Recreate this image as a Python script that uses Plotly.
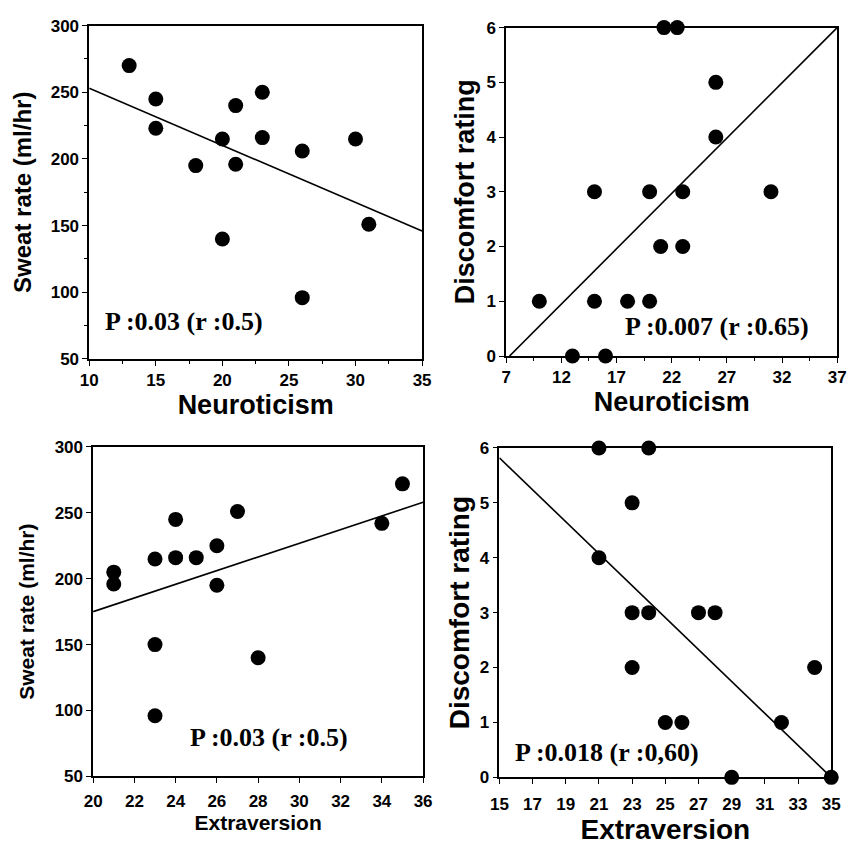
import plotly.graph_objects as go

# Panel A: Neuroticism vs sweat rate
neuro_a = [13, 15, 15, 18, 20, 20, 21, 21, 23, 23, 26, 26, 30, 31]
sweat_a = [270, 245, 223, 195, 215, 140, 240, 196, 250, 216, 206, 96, 215, 151]
fit_a_x = [10, 35]
fit_a_y = [253, 146]

# Panel B: Neuroticism vs discomfort
neuro_b = [21.3, 22.5, 26, 26, 15, 20, 23, 31, 21, 23, 10, 15, 18, 20, 13, 16]
disc_b = [6, 6, 5, 4, 3, 3, 3, 3, 2, 2, 1, 1, 1, 1, 0, 0]
fit_b_x = [7.3, 37]
fit_b_y = [0, 6]

# Panel C: Extraversion vs sweat rate
extra_c = [21, 21, 23, 23, 23, 24, 24, 25, 26, 26, 27, 28, 34, 35]
sweat_c = [205, 196, 215, 150, 96, 245, 216, 216, 225, 195, 251, 140, 242, 272]
fit_c_x = [20, 36]
fit_c_y = [175, 258]

# Panel D: Extraversion vs discomfort
extra_d = [21, 24, 23, 21, 23, 24, 27, 28, 23, 34, 25, 26, 32, 29, 35]
disc_d = [6, 6, 5, 4, 3, 3, 3, 3, 2, 2, 1, 1, 1, 0, 0]
fit_d_x = [15, 35]
fit_d_y = [5.82, 0]

labels = ["P :0.03 (r :0.5)", "P :0.007 (r :0.65)", "P :0.03 (r :0.5)", "P :0.018 (r :0,60)"]

SANS = "Liberation Sans"
SERIF = "Liberation Serif"

fig = go.Figure()

panels = [
    (neuro_a, sweat_a, fit_a_x, fit_a_y, "x", "y"),
    (neuro_b, disc_b, fit_b_x, fit_b_y, "x2", "y2"),
    (extra_c, sweat_c, fit_c_x, fit_c_y, "x3", "y3"),
    (extra_d, disc_d, fit_d_x, fit_d_y, "x4", "y4"),
]
for px, py, fx, fy, xa, ya in panels:
    fig.add_trace(go.Scatter(x=fx, y=fy, mode="lines", xaxis=xa, yaxis=ya,
                             line=dict(color="black", width=1.6), showlegend=False,
                             cliponaxis=False))
    fig.add_trace(go.Scatter(x=px, y=py, mode="markers", xaxis=xa, yaxis=ya,
                             marker=dict(color="black", size=15), showlegend=False,
                             cliponaxis=False))


def tf(size):
    return dict(family=SANS, size=size, color="black", weight=700)


def common(size, standoff=0):
    return dict(showline=True, linecolor="black", linewidth=1.5, mirror=True,
                showgrid=False, zeroline=False, ticks="outside", ticklen=5,
                tickcolor="black", tickfont=tf(size), ticklabelstandoff=standoff)


fig.update_layout(
    width=852, height=845, margin=dict(l=0, r=0, t=0, b=0),
    paper_bgcolor="white", plot_bgcolor="white",
    xaxis=dict(domain=[0.0962, 0.4953], range=[10, 35], tickvals=[10, 15, 20, 25, 30, 35],
               title=dict(text="Neuroticism", font=tf(27), standoff=0), anchor="y",
               minor=dict(ticks="outside", ticklen=3, dtick=2.5, tickcolor="black"), **common(17)),
    yaxis=dict(domain=[0.5763, 0.9799], range=[50, 300], tickvals=[50, 100, 150, 200, 250, 300],
               title=dict(text="Sweat rate (ml/hr)", font=tf(24), standoff=12), anchor="x",
               minor=dict(ticks="outside", ticklen=3, dtick=25, tickcolor="black"), **common(17)),
    xaxis2=dict(domain=[0.5962, 0.9930], range=[7, 37], tickvals=[7, 12, 17, 22, 27, 32, 37],
                title=dict(text="Neuroticism", font=tf(27), standoff=0), anchor="y2",
                minor=dict(ticks="outside", ticklen=3, dtick=2.5, tick0=7, tickcolor="black"), **common(17)),
    yaxis2=dict(domain=[0.5799, 0.9775], range=[0, 6], tickvals=[0, 1, 2, 3, 4, 5, 6],
                title=dict(text="Discomfort rating", font=tf(27), standoff=4), anchor="x2",
                **common(17)),
    xaxis3=dict(domain=[0.1009, 0.4965], range=[20, 36], tickvals=list(range(20, 37, 2)),
                title=dict(text="Extraversion", font=tf(21), standoff=6), anchor="y3",
                **common(17, 3)),
    yaxis3=dict(domain=[0.0710, 0.4698], range=[50, 300], tickvals=[50, 100, 150, 200, 250, 300],
                title=dict(text="Sweat rate (ml/hr)", font=tf(21), standoff=14), anchor="x3",
                **common(17)),
    xaxis4=dict(domain=[0.5880, 0.9859], range=[15, 35], tickvals=list(range(15, 36, 2)),
                title=dict(text="Extraversion", font=tf(28), standoff=4), anchor="y4",
                **common(17, 6)),
    yaxis4=dict(domain=[0.0698, 0.4686], range=[0, 6], tickvals=[0, 1, 2, 3, 4, 5, 6],
                title=dict(text="Discomfort rating", font=tf(28), standoff=2), anchor="x4",
                **common(17)),
)

ann_pos = [(11.0, 78, "x", "y"), (17.55, 0.54, "x2", "y2"),
           (24.6, 79.7, "x3", "y3"), (15.8, 0.46, "x4", "y4")]
for (ax, ay, xr, yr), txt in zip(ann_pos, labels):
    fig.add_annotation(x=ax, y=ay, xref=xr, yref=yr, text=txt, showarrow=False,
                       xanchor="left", yanchor="middle",
                       font=dict(family=SERIF, size=26, color="black", weight=700))

fig.write_html("out.html")
